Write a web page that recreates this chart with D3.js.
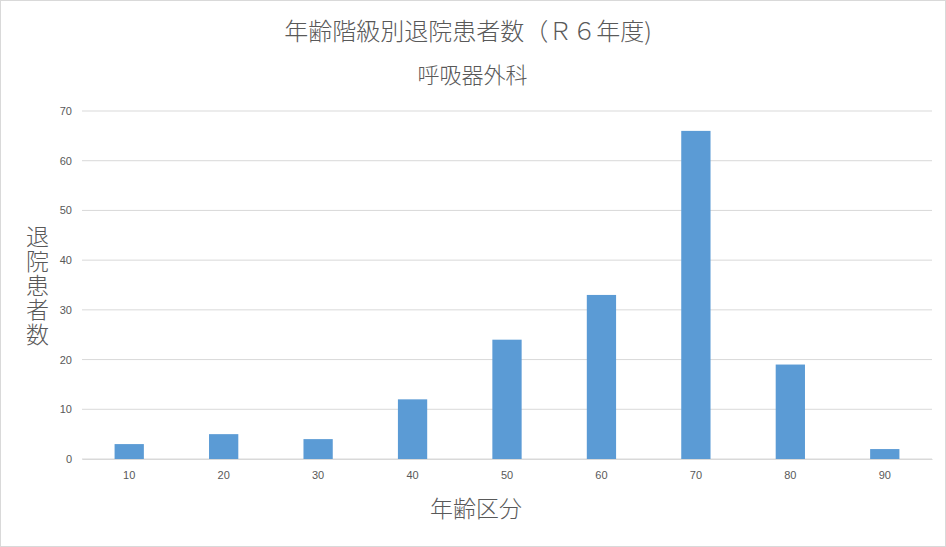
<!DOCTYPE html>
<html><head><meta charset="utf-8">
<script src="https://cdn.jsdelivr.net/npm/d3@7"></script>
<style>body{margin:0;background:#fff;}svg{display:block;font-family:"Noto Sans CJK JP","Noto Sans",sans-serif;}</style>
</head><body><svg id="c" width="946" height="547"></svg>
<script>
const categories = ["10","20","30","40","50","60","70","80","90"];
const values = [3,5,4,12,24,33,66,19,2];
const yTicks = [0,10,20,30,40,50,60,70];
const title = "年齢階級別退院患者数（Ｒ６年度)";
const subtitle = "呼吸器外科";
const xTitle = "年齢区分";
const yTitle = "退院患者数";

const svg = d3.select("#c");
svg.append("rect").attr("x",0.5).attr("y",0.5).attr("width",945).attr("height",546)
  .attr("fill","#fff").attr("stroke","#d9d9d9");

const m = {l:82, r:14, t:111, b:88};
const W = 946, H = 547;
const x = d3.scaleBand().domain(categories).range([m.l, W-m.r]).paddingInner(0.69).paddingOuter(0.345);
const y = d3.scaleLinear().domain([0,70]).range([H-m.b, m.t]);

const g = svg.append("g");
g.selectAll("line.grid").data(yTicks).join("line")
  .attr("x1",m.l).attr("x2",W-m.r).attr("y1",d=>y(d)).attr("y2",d=>y(d))
  .attr("stroke","#d9d9d9").attr("stroke-width",1);

const yAxis = svg.append("g").attr("transform",`translate(${m.l},0)`)
  .call(d3.axisLeft(y).tickValues(yTicks).tickSize(0).tickPadding(10));
yAxis.select(".domain").remove();
yAxis.selectAll("text").attr("fill","#595959").attr("font-size",11).attr("font-family","Liberation Sans, sans-serif");

g.selectAll("rect.bar").data(values).join("rect")
  .attr("x",(d,i)=>x(categories[i])).attr("width",x.bandwidth())
  .attr("y",d=>y(d)).attr("height",d=>y(0)-y(d)).attr("fill","#5b9bd5");

const xAxis = svg.append("g").attr("transform",`translate(0,${y(0)})`)
  .call(d3.axisBottom(x).tickSize(0).tickPadding(12));
xAxis.select(".domain").attr("stroke","#d9d9d9");
xAxis.selectAll("text").attr("fill","#595959").attr("font-size",11).attr("font-family","Liberation Sans, sans-serif");

svg.append("text").attr("x",468).attr("y",40).attr("text-anchor","middle")
  .attr("font-size",24).attr("font-weight",300).attr("fill","#595959").text(title);
svg.append("text").attr("x",472.5).attr("y",83).attr("text-anchor","middle")
  .attr("font-size",22).attr("font-weight",300).attr("fill","#595959").text(subtitle);
svg.append("text").attr("x",476).attr("y",517).attr("text-anchor","middle")
  .attr("font-size",23).attr("font-weight",300).attr("fill","#595959").text(xTitle);
svg.append("text").attr("x",37.5).attr("y",225)
  .style("writing-mode","vertical-rl").style("text-orientation","upright")
  .attr("letter-spacing",1.4)
  .attr("font-size",23).attr("font-weight",300).attr("fill","#595959").text(yTitle);
</script></body></html>
